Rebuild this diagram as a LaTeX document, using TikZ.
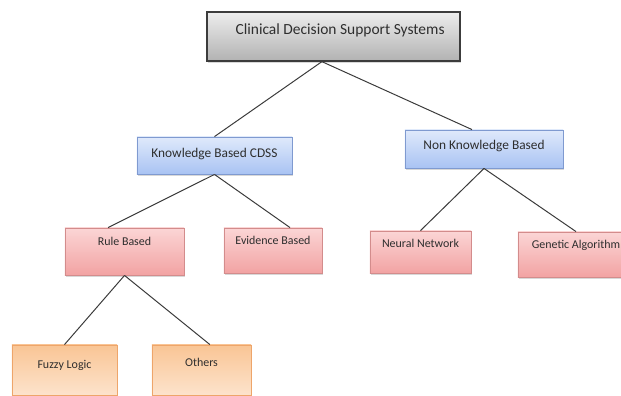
\documentclass[tikz,border=0pt]{standalone}
\usepackage{fontspec}
\setmainfont{Carlito}
\usetikzlibrary{shadows}
\definecolor{lineclr}{HTML}{3A3A3A}
\definecolor{txtclr}{HTML}{2E2E2E}
\definecolor{grayedge}{HTML}{3C3C3C}
\definecolor{graytop}{HTML}{EDEDED}
\definecolor{graybot}{HTML}{B2B2B2}
\definecolor{blueedge}{HTML}{7F9AD0}
\definecolor{bluetop}{HTML}{DFE9FB}
\definecolor{bluebot}{HTML}{A9C3F3}
\definecolor{pinkedge}{HTML}{D38C8C}
\definecolor{pinktop}{HTML}{FBD5D5}
\definecolor{pinkbot}{HTML}{F2A3A3}
\definecolor{orngedge}{HTML}{EEA56A}
\definecolor{orngtop}{HTML}{F9C595}
\definecolor{orngbot}{HTML}{FDE3CC}
\begin{document}
\begin{tikzpicture}[x=0.025cm,y=-0.025cm,
    box/.style={rectangle, inner sep=0pt, text=txtclr,
      drop shadow={shadow xshift=1pt, shadow yshift=-1.2pt, opacity=0.3}},
    rootbox/.style={box, draw=grayedge, line width=0.9pt, top color=graytop,
      bottom color=graybot, font=\fontsize{11}{13}\selectfont},
    midbox/.style={box, draw=blueedge, line width=0.6pt, top color=bluetop,
      bottom color=bluebot, font=\fontsize{9.5}{11}\selectfont},
    leafbox/.style={box, draw=pinkedge, line width=0.6pt, top color=pinktop,
      bottom color=pinkbot, font=\fontsize{8.5}{10}\selectfont},
    subbox/.style={box, draw=orngedge, line width=0.6pt, top color=orngtop,
      bottom color=orngbot, font=\fontsize{8.5}{10}\selectfont},
    link/.style={draw=lineclr, line width=0.7pt}]
  \clip (0,0) rectangle (621,396);
  \fill [white] (0,0) rectangle (621,396);

  \node [rootbox, minimum width=6.325cm, text height=0.5625cm, text depth=0.6625cm]
    (cdss) at (333.5,36.5) {\hspace*{0.33cm}Clinical Decision Support Systems};

  \node [midbox, minimum width=3.875cm, text height=0.5cm, text depth=0.425cm]
    (kb) at (214.5,155.5) {Knowledge Based CDSS};
  \node [midbox, minimum width=3.95cm, text height=0.475cm, text depth=0.475cm]
    (nkb) at (484,149) {Non Knowledge Based};

  \node [leafbox, minimum width=2.975cm, text height=0.4375cm, text depth=0.7375cm]
    (rule) at (124.5,251.5) {Rule Based};
  \node [leafbox, minimum width=2.45cm, text height=0.4125cm, text depth=0.7125cm]
    (evid) at (273,250.5) {Evidence Based};
  \node [leafbox, minimum width=2.525cm, text height=0.4125cm, text depth=0.6375cm]
    (neural) at (420.5,252) {Neural Network};
  \node [leafbox, minimum width=2.9cm, text height=0.4125cm, text depth=0.7125cm]
    (genetic) at (576,254.5) {Genetic Algorithm};

  \node [subbox, minimum width=2.625cm, text height=0.5875cm, text depth=0.6625cm]
    (fuzzy) at (64.5,370) {Fuzzy Logic};
  \node [subbox, minimum width=2.475cm, text height=0.5375cm, text depth=0.7125cm]
    (others) at (201.5,370) {Others};

  \draw [link] ([xshift=-0.29cm]cdss.south) -- (kb.north);
  \draw [link] ([xshift=-0.29cm]cdss.south) -- ([xshift=-0.3cm]nkb.north);
  \draw [link] (kb.south) -- ([xshift=-0.41cm]rule.north);
  \draw [link] (kb.south) -- ([xshift=0.425cm]evid.north);
  \draw [link] (nkb.south) -- (neural.north);
  \draw [link] (nkb.south) -- (genetic.north);
  \draw [link] (rule.south) -- (fuzzy.north);
  \draw [link] (rule.south) -- ([xshift=0.21cm]others.north);
\end{tikzpicture}
\end{document}
